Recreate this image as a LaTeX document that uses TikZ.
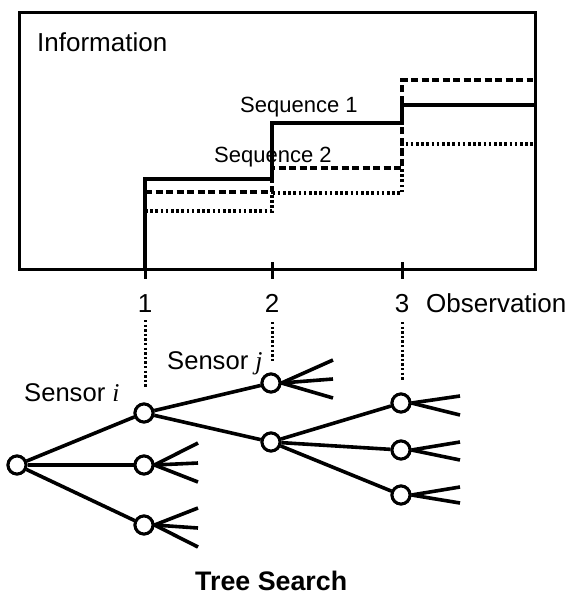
\documentclass[tikz,border=0pt]{standalone}
\usepackage{fontspec}
\setmainfont{Liberation Sans}
\newfontfamily\serifit{Liberation Serif}
\begin{document}
\begin{tikzpicture}[x=1pt,y=-1pt,
  frame/.style={line width=3pt},
  solidstep/.style={line width=3.2pt},
  dashstep/.style={line width=3.2pt,dash pattern=on 7pt off 3.5pt},
  dotstep/.style={line width=3.2pt,dash pattern=on 2.6pt off 2.6pt},
  guide/.style={line width=3pt,dash pattern=on 2.4pt off 2.2pt},
  tnode/.style={circle,draw,line width=3pt,minimum size=18pt,inner sep=0pt,fill=white},
  edge/.style={line width=3.6pt},
  lbl/.style={inner sep=0pt,font=\fontsize{26}{30}\selectfont},
  seq/.style={inner sep=0pt,font=\fontsize{22}{26}\selectfont}]
\useasboundingbox (0,0) rectangle (570,595);
% plot frame
\draw[frame] (19,12) rectangle (535,269);
\node[lbl,anchor=base west] (info) at (37,51) {Information};
% ticks
\draw[frame] (145,269) -- (145,279);
\draw[frame] (272,262) -- (272,279);
\draw[frame] (402,262) -- (402,279);
% steps
\draw[dotstep] (145,211) -- (272,211) -- (272,193) -- (402,193) -- (402,144) -- (533,144);
\draw[dashstep] (145,192) -- (272,192) -- (272,168) -- (402,168) -- (402,80) -- (533,80);
\draw[solidstep] (145,269) -- (145,179) -- (272,179) -- (272,123) -- (402,123) -- (402,105) -- (535,105);
\node[seq,anchor=base west] (s1) at (240,112) {Sequence 1};
\node[seq,anchor=base west] (s2) at (214,162) {Sequence 2};
% observation axis labels
\node[lbl,anchor=base] (o1) at (145,312) {1};
\node[lbl,anchor=base] (o2) at (272,312) {2};
\node[lbl,anchor=base] (o3) at (402,312) {3};
\node[lbl,anchor=base west] (obs) at (426,312) {Observation};
% tree nodes
\node[tnode] (r) at (17,465) {};
\node[tnode] (a1) at (144,413) {};
\node[tnode] (a2) at (144,465) {};
\node[tnode] (a3) at (144,525) {};
\node[tnode] (b1) at (271,383) {};
\node[tnode] (b2) at (271,442) {};
\node[tnode] (c1) at (401,403) {};
\node[tnode] (c2) at (401,450) {};
\node[tnode] (c3) at (401,495) {};
% guide coordinates
\coordinate (g1t) at (145,320); \coordinate (g1b) at (145,388);
\coordinate (g2t) at (272,322); \coordinate (g2b) at (272,361);
\coordinate (g3t) at (402,322); \coordinate (g3b) at (402,381);
\draw[guide] (g1t) -- (g1b);
\draw[guide] (g2t) -- (g2b);
\draw[guide] (g3t) -- (g3b);
% edges
\draw[edge] (r) -- (a1);
\draw[edge] (r) -- (a2);
\draw[edge] (r) -- (a3);
\draw[edge] (a1) -- (b1);
\draw[edge] (a1) -- (b2);
\draw[edge] (b2) -- (c1);
\draw[edge] (b2) -- (c2);
\draw[edge] (b2) -- (c3);
% leaves
\coordinate (la21) at (198,443); \coordinate (la22) at (198,463); \coordinate (la23) at (198,482);
\coordinate (la31) at (198,508); \coordinate (la32) at (198,528); \coordinate (la33) at (198,547);
\coordinate (lb11) at (333,360); \coordinate (lb12) at (333,379); \coordinate (lb13) at (333,398);
\coordinate (lc11) at (460,396); \coordinate (lc12) at (460,415);
\coordinate (lc21) at (460,442); \coordinate (lc22) at (460,460);
\coordinate (lc31) at (460,487); \coordinate (lc32) at (460,503);
\foreach \n/\l in {a2/la21,a2/la22,a2/la23,a3/la31,a3/la32,a3/la33,b1/lb11,b1/lb12,b1/lb13,c1/lc11,c1/lc12,c2/lc21,c2/lc22,c3/lc31,c3/lc32}
  \draw[edge] (\n.east) -- (\l);
% redraw nodes on top
\foreach \n in {r,a1,a2,a3,b1,b2,c1,c2,c3}
  \draw[line width=3pt,fill=white] (\n) circle (9pt);
% labels
\node[inner sep=0pt,font=\fontsize{25.6}{30}\selectfont,anchor=base west] (si) at (24,401) {Sensor {\serifit\itshape i}};
\node[inner sep=0pt,font=\fontsize{25.6}{30}\selectfont,anchor=base west] (sj) at (167,369) {Sensor {\serifit\itshape j}};
\node[inner sep=0pt,font=\fontsize{26.8}{31}\selectfont\bfseries,anchor=base west] (ts) at (195,590) {Tree Search};
\end{tikzpicture}
\end{document}
